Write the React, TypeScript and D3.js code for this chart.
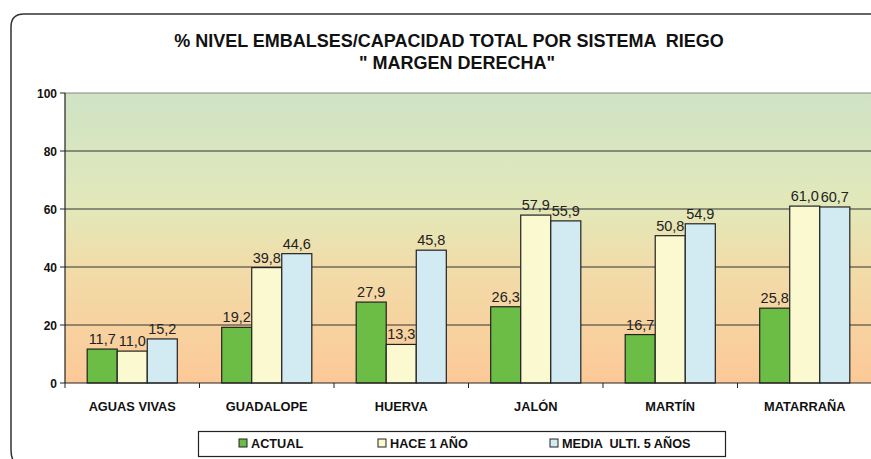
import React from 'react'
import * as d3 from 'd3'

const categories = ['AGUAS VIVAS', 'GUADALOPE', 'HUERVA', 'JALÓN', 'MARTÍN', 'MATARRAÑA']
const actual = [11.7, 19.2, 27.9, 26.3, 16.7, 25.8]
const hace1 = [11.0, 39.8, 13.3, 57.9, 50.8, 61.0]
const media5 = [15.2, 44.6, 45.8, 55.9, 54.9, 60.7]
const seriesNames = ['ACTUAL', 'HACE 1 AÑO', 'MEDIA  ULTI. 5 AÑOS']
const yTicks = [0, 20, 40, 60, 80, 100]

const colors = ['#6cbd45', '#fbf9d0', '#d2ebf3']
const font = 'Liberation Sans, Arial, sans-serif'

const W = 871
const H = 459
const plot = { left: 65, right: 872, top: 93, bottom: 383 }

const fmt = (v: number) => v.toFixed(1).replace('.', ',')

export default function App() {
  const series = [actual, hace1, media5]

  const x = d3.scaleBand().domain(categories).range([plot.left, plot.right]).paddingInner(0.33).paddingOuter(0.165)
  const xs = d3.scaleBand().domain(['0', '1', '2']).range([0, x.bandwidth()])
  const y = d3.scaleLinear().domain([0, 100]).range([plot.bottom, plot.top])
  const band = (plot.right - plot.left) / categories.length

  const legendItems = [
    { x: 239, label: seriesNames[0] },
    { x: 378, label: seriesNames[1] },
    { x: 550, label: seriesNames[2] },
  ]

  return (
    <svg width={W} height={H} style={{ position: 'absolute', left: 0, top: 0, background: '#fff' }}>
      <defs>
        <linearGradient id="bg" x1="0" y1="0" x2="0" y2="1">
          <stop offset="0" stopColor="#cfe3c5" />
          <stop offset="0.4" stopColor="#e3e8b9" />
          <stop offset="0.6" stopColor="#f1dca9" />
          <stop offset="1" stopColor="#fcc997" />
        </linearGradient>
      </defs>

      {/* outer frame */}
      <path
        d={`M ${W + 5} 14 L 24 14 Q 11 14 11 27 L 11 450 Q 11 457 14 462`}
        fill="none"
        stroke="#333"
        strokeWidth={1.5}
      />

      {/* title */}
      <text x={449} y={47} textAnchor="middle" fontFamily={font} fontWeight="bold" fontSize={18} fill="#111" style={{ whiteSpace: 'pre' }}>
        % NIVEL EMBALSES/CAPACIDAD TOTAL POR SISTEMA  RIEGO
      </text>
      <text x={457} y={69} textAnchor="middle" fontFamily={font} fontWeight="bold" fontSize={18} fill="#111" style={{ whiteSpace: 'pre' }}>
        " MARGEN DERECHA"
      </text>

      {/* plot background */}
      <rect x={plot.left} y={plot.top} width={plot.right - plot.left} height={plot.bottom - plot.top} fill="url(#bg)" />
      <line x1={plot.left} x2={plot.right} y1={plot.top} y2={plot.top} stroke="#888" strokeWidth={1.2} />

      {/* gridlines */}
      {yTicks.filter(t => t > 0 && t < 100).map(t => (
        <line key={t} x1={plot.left} x2={plot.right} y1={y(t)} y2={y(t)} stroke="#333" strokeWidth={1} />
      ))}

      {/* y axis */}
      <line x1={plot.left} x2={plot.left} y1={plot.top} y2={plot.bottom} stroke="#222" strokeWidth={1.2} />
      {yTicks.map(t => (
        <g key={t}>
          <line x1={plot.left - 5} x2={plot.left} y1={y(t)} y2={y(t)} stroke="#222" />
          <text x={plot.left - 8} y={y(t) + 4.5} textAnchor="end" fontFamily={font} fontWeight="bold" fontSize={12} fill="#111">
            {t}
          </text>
        </g>
      ))}

      {/* bars */}
      {categories.map((c, i) => (
        <g key={c} transform={`translate(${x(c)},0)`}>
          {series.map((s, j) => {
            const bx = xs(String(j)) as number
            const v = s[i]
            return (
              <g key={j}>
                <rect x={bx} y={y(v)} width={xs.bandwidth()} height={y(0) - y(v)} fill={colors[j]} stroke="#222" strokeWidth={1.2} />
                <text x={bx + xs.bandwidth() / 2} y={y(v) - 5} textAnchor="middle" fontFamily={font} fontSize={14.5} fill="#222">
                  {fmt(v)}
                </text>
              </g>
            )
          })}
        </g>
      ))}

      {/* x axis */}
      <line x1={plot.left} x2={plot.right} y1={plot.bottom} y2={plot.bottom} stroke="#222" strokeWidth={1.2} />
      {d3.range(categories.length + 1).map(k => (
        <line key={k} x1={plot.left + k * band} x2={plot.left + k * band} y1={plot.bottom} y2={plot.bottom + 5} stroke="#222" />
      ))}
      {categories.map(c => (
        <text key={c} x={(x(c) as number) + x.bandwidth() / 2} y={410.5} textAnchor="middle" fontFamily={font} fontWeight="bold" fontSize={12.8} fill="#111">
          {c}
        </text>
      ))}

      {/* legend */}
      <rect x={198.5} y={431.5} width={527} height={25} fill="#fff" stroke="#222" strokeWidth={1.2} />
      {legendItems.map((it, j) => (
        <g key={j}>
          <rect x={it.x} y={439} width={8} height={8} fill={colors[j]} stroke="#222" strokeWidth={1} />
          <text x={it.x + 12} y={448} fontFamily={font} fontWeight="bold" fontSize={12.7} fill="#111" style={{ whiteSpace: 'pre' }}>
            {it.label}
          </text>
        </g>
      ))}
    </svg>
  )
}
